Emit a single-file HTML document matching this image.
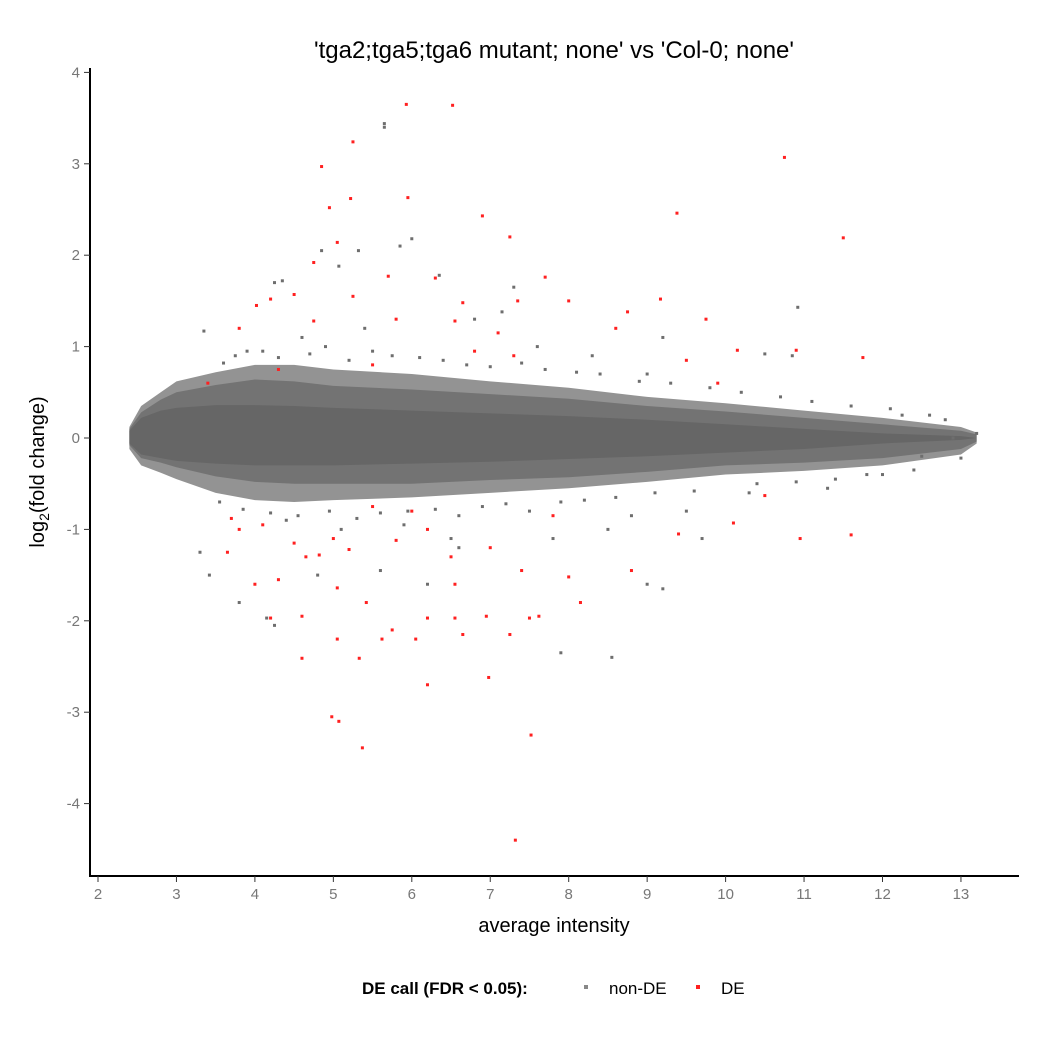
<!DOCTYPE html>
<html><head><meta charset="utf-8"><style>
html,body{margin:0;padding:0;background:#fff;}
svg{display:block;font-family:"Liberation Sans",sans-serif;}
</style></head><body>
<svg id="chart" width="1050" height="1050" viewBox="0 0 1050 1050">
<g id="plot"></g>
</svg>
<script>
// Dense cloud envelope: x, outer sparse fringe, fringe, core
const envX     = [2.4, 2.55, 2.8, 3.0, 3.5, 4.0, 4.5, 5.0, 6.0, 7.0, 8.0, 9.0, 10.0, 11.0, 12.0, 13.0, 13.2];
const outUpper = [0.12, 0.35, 0.5, 0.62, 0.72, 0.8, 0.8, 0.75, 0.7, 0.62, 0.55, 0.45, 0.38, 0.3, 0.22, 0.12, 0.06];
const outLower = [-0.12, -0.3, -0.38, -0.45, -0.6, -0.68, -0.7, -0.68, -0.65, -0.6, -0.55, -0.48, -0.4, -0.36, -0.3, -0.18, -0.06];
const envUpper = [0.1, 0.28, 0.42, 0.5, 0.58, 0.64, 0.62, 0.57, 0.53, 0.48, 0.43, 0.35, 0.29, 0.22, 0.15, 0.08, 0.04];
const envLower = [-0.08, -0.22, -0.27, -0.32, -0.42, -0.48, -0.5, -0.5, -0.5, -0.46, -0.43, -0.37, -0.3, -0.27, -0.22, -0.12, -0.04];
const coreUpper= [0.08, 0.22, 0.3, 0.33, 0.36, 0.36, 0.35, 0.33, 0.3, 0.27, 0.24, 0.2, 0.15, 0.1, 0.05, 0.02, 0.0];
const coreLower= [-0.06, -0.18, -0.22, -0.25, -0.28, -0.3, -0.3, -0.3, -0.28, -0.26, -0.23, -0.2, -0.16, -0.12, -0.06, -0.02, 0.0];
// Non-DE outliers
const greyX = [5.65,5.65,4.85,5.32,5.85,6.0,5.07,4.35,4.25,6.35,7.3,7.15,10.92,3.35,10.5,10.85,9.2,9.0,3.3,3.42,3.8,4.25,4.15,5.6,6.2,7.9,8.55,9.2,9.0,6.5,4.8,5.1,8.5,9.7,12.25,13.2,12.9,12.5,12.8,4.6,5.4,6.8,7.6,8.3,3.9,4.4,5.9,6.6,7.8,8.8,9.5,10.3,11.3,11.8,
 3.6,3.75,4.1,4.3,4.7,4.9,5.2,5.5,5.75,6.1,6.4,6.7,7.0,7.4,7.7,8.1,8.4,8.9,9.3,9.8,10.2,10.7,11.1,11.6,12.1,12.6,
 3.55,3.85,4.2,4.55,4.95,5.3,5.6,5.95,6.3,6.6,6.9,7.2,7.5,7.9,8.2,8.6,9.1,9.6,10.4,10.9,11.4,12.0,12.4,13.0];
const greyY = [3.44,3.4,2.05,2.05,2.1,2.18,1.88,1.72,1.7,1.78,1.65,1.38,1.43,1.17,0.92,0.9,1.1,0.7,-1.25,-1.5,-1.8,-2.05,-1.97,-1.45,-1.6,-2.35,-2.4,-1.65,-1.6,-1.1,-1.5,-1.0,-1.0,-1.1,0.25,0.05,0.0,-0.2,0.2,1.1,1.2,1.3,1.0,0.9,0.95,-0.9,-0.95,-1.2,-1.1,-0.85,-0.8,-0.6,-0.55,-0.4,
 0.82,0.9,0.95,0.88,0.92,1.0,0.85,0.95,0.9,0.88,0.85,0.8,0.78,0.82,0.75,0.72,0.7,0.62,0.6,0.55,0.5,0.45,0.4,0.35,0.32,0.25,
 -0.7,-0.78,-0.82,-0.85,-0.8,-0.88,-0.82,-0.8,-0.78,-0.85,-0.75,-0.72,-0.8,-0.7,-0.68,-0.65,-0.6,-0.58,-0.5,-0.48,-0.45,-0.4,-0.35,-0.22];
// DE points
const deX = [5.93,6.52,10.75,5.25,4.85,4.95,5.95,5.22,6.9,7.25,9.38,11.5,5.05,4.75,5.7,6.3,7.7,4.2,4.5,5.25,6.65,7.35,8.0,9.17,8.75,4.75,3.8,4.02,5.8,6.55,7.1,8.6,9.75,10.15,10.9,11.75,3.4,4.3,5.5,6.8,7.3,9.5,9.9,
 3.7,4.1,4.5,4.65,4.82,5.0,5.2,5.5,5.8,6.2,6.5,7.0,7.4,8.0,8.15,8.8,9.4,10.1,10.5,10.95,11.6,3.65,4.3,4.2,4.6,4.6,5.05,5.05,5.33,5.42,5.62,5.75,6.05,6.2,6.2,6.55,6.55,6.65,6.95,6.98,7.25,7.5,7.62,7.52,7.32,4.98,5.07,5.37,4.0,3.8,6.0,7.8];
const deY = [3.65,3.64,3.07,3.24,2.97,2.52,2.63,2.62,2.43,2.2,2.46,2.19,2.14,1.92,1.77,1.75,1.76,1.52,1.57,1.55,1.48,1.5,1.5,1.52,1.38,1.28,1.2,1.45,1.3,1.28,1.15,1.2,1.3,0.96,0.96,0.88,0.6,0.75,0.8,0.95,0.9,0.85,0.6,
 -0.88,-0.95,-1.15,-1.3,-1.28,-1.1,-1.22,-0.75,-1.12,-1.0,-1.3,-1.2,-1.45,-1.52,-1.8,-1.45,-1.05,-0.93,-0.63,-1.1,-1.06,-1.25,-1.55,-1.97,-1.95,-2.41,-1.64,-2.2,-2.41,-1.8,-2.2,-2.1,-2.2,-1.97,-2.7,-1.6,-1.97,-2.15,-1.95,-2.62,-2.15,-1.97,-1.95,-3.25,-4.4,-3.05,-3.1,-3.39,-1.6,-1.0,-0.8,-0.85];
const xTicks = [2,3,4,5,6,7,8,9,10,11,12,13];
const yTicks = [4,3,2,1,0,-1,-2,-3,-4];

const NS = 'http://www.w3.org/2000/svg';
const sx = v => 98 + (v - 2) * 78.45;
const sy = v => 438 - v * 91.4;
const g = document.getElementById('plot');
function mk(tag, attrs, parent){const e=document.createElementNS(NS,tag);for(const k in attrs)e.setAttribute(k,attrs[k]);(parent||g).appendChild(e);return e;}

function band(up, lo){let d='M'+sx(envX[0])+','+sy(up[0]);
 for(let i=1;i<envX.length;i++)d+='L'+sx(envX[i])+','+sy(up[i]);
 for(let i=envX.length-1;i>=0;i--)d+='L'+sx(envX[i])+','+sy(lo[i]);return d+'Z';}
const ou = mk('path',{d:band(outUpper,outLower),fill:'#939393'});


const fr = mk('path',{d:band(envUpper,envLower),fill:'#737373'});


const co = mk('path',{d:band(coreUpper,coreLower),fill:'#666666'});



for(let i=0;i<greyX.length;i++){const r=mk('rect',{x:sx(greyX[i])-1.5,y:sy(greyY[i])-1.5,width:3,height:3,fill:'#6e6e6e'});
 
 }
for(let i=0;i<deX.length;i++){const r=mk('rect',{x:sx(deX[i])-1.5,y:sy(deY[i])-1.5,width:3,height:3,fill:'#ff2020'});
 
 }

// axes
const ya=mk('line',{x1:90,y1:68,x2:90,y2:877,stroke:'#000','stroke-width':2});


const xa=mk('line',{x1:89,y1:876,x2:1019,y2:876,stroke:'#000','stroke-width':2});


xTicks.forEach(t=>{mk('line',{x1:sx(t),y1:876,x2:sx(t),y2:882,stroke:'#333','stroke-width':1});
 const tx=mk('text',{x:sx(t),y:899,'text-anchor':'middle','font-size':15,fill:'#777'});tx.textContent=t;
 
 });
yTicks.forEach(t=>{mk('line',{x1:84,y1:sy(t),x2:90,y2:sy(t),stroke:'#333','stroke-width':1});
 const tx=mk('text',{x:80,y:sy(t)+5,'text-anchor':'end','font-size':15,fill:'#777'});tx.textContent=t;
 
 });
</script>
<svg style="position:absolute;left:0;top:0" width="1050" height="1050">
<text x="554" y="58" text-anchor="middle" font-size="24" fill="#000" font-family="Liberation Sans,sans-serif">'tga2;tga5;tga6 mutant; none' vs 'Col-0; none'</text>
<text x="554" y="932" text-anchor="middle" font-size="20" fill="#000" font-family="Liberation Sans,sans-serif">average intensity</text>
<text transform="translate(44,472) rotate(-90)" text-anchor="middle" font-size="20" fill="#000" font-family="Liberation Sans,sans-serif">log<tspan font-size="14" dy="5">2</tspan><tspan dy="-5">(fold change)</tspan></text>
<g font-family="Liberation Sans,sans-serif" font-size="17">
<text x="362" y="994" font-weight="bold">DE call (FDR &lt; 0.05):</text>
<rect x="584" y="985" width="4" height="4" fill="#888"/>
<text x="609" y="994">non-DE</text>
<rect x="696" y="985" width="4" height="4" fill="#ff2020"/>
<text x="721" y="994">DE</text>
</g>
</svg>
</body></html>
